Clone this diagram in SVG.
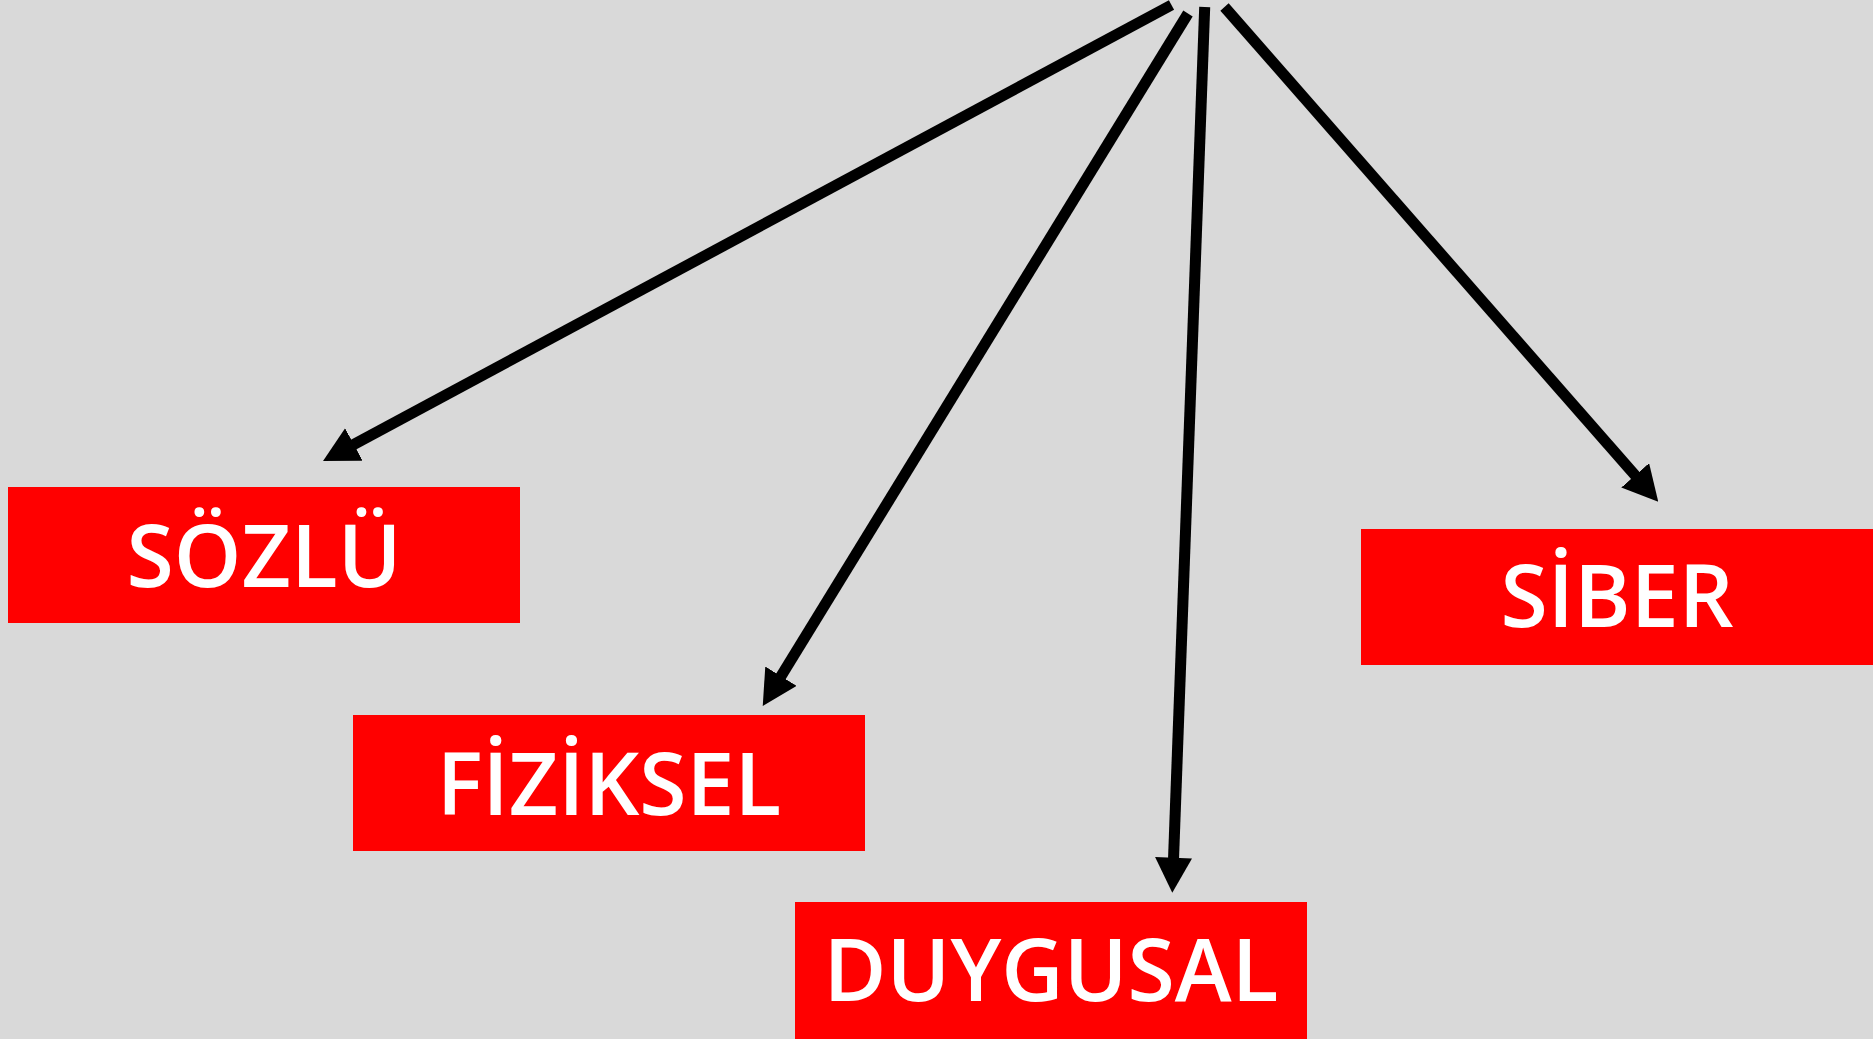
<svg xmlns="http://www.w3.org/2000/svg" width="1873" height="1039" viewBox="0 0 1873 1039">
  <style>
    .box { fill: #ff0000; }
    .label { fill: #ffffff; font-family: "Open Sans", "Noto Sans", "DejaVu Sans", sans-serif; font-weight: 600; font-size: 86px; text-anchor: middle; }
    .edge { stroke: #000000; stroke-width: 11; fill: none; marker-end: url(#head); }
  </style>
  <defs>
    <marker id="head" markerUnits="userSpaceOnUse" viewBox="0 0 35 37" markerWidth="35" markerHeight="37" refX="2" refY="18.5" orient="auto">
      <path d="M0,0 L35,18.5 L0,37 Z" fill="#000000"/>
    </marker>
  </defs>

  <rect width="1873" height="1039" fill="#d9d9d9"/>

  <!-- connectors fanning out from a common point at the top -->
  <g id="connectors">
    <line class="edge" x1="1171.5" y1="5" x2="352.1" y2="445.4"/>
    <line class="edge" x1="1188" y1="13.5" x2="780" y2="677.9"/>
    <line class="edge" x1="1204.7" y1="7" x2="1173.5" y2="859.7"/>
    <line class="edge" x1="1224.5" y1="7" x2="1636.5" y2="476.9"/>
  </g>

  <g id="sozlu">
    <rect class="box" x="8" y="487" width="512" height="136"/>
    <text class="label" x="264" y="586.5">SÖZLÜ</text>
  </g>

  <g id="fiziksel">
    <rect class="box" x="353" y="715" width="512" height="136"/>
    <text class="label" x="609" y="814.5">FİZİKSEL</text>
  </g>

  <g id="duygusal">
    <rect class="box" x="795" y="902" width="512" height="137"/>
    <text class="label" x="1051" y="1001">DUYGUSAL</text>
  </g>

  <g id="siber">
    <rect class="box" x="1361" y="529" width="512" height="136"/>
    <text class="label" x="1617" y="627">SİBER</text>
  </g>
</svg>
